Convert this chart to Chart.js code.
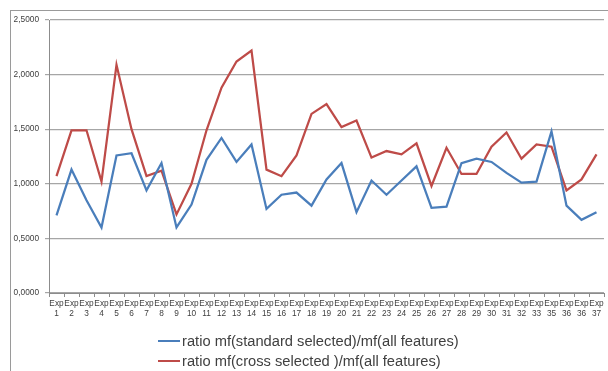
<!DOCTYPE html>
<html>
<head>
<meta charset="utf-8">
<script src="https://cdn.jsdelivr.net/npm/chart.js@4"></script>
<style>
  html, body { margin: 0; padding: 0; background: #fff; }
  #wrap { position: relative; width: 608px; height: 371px; overflow: hidden; }
  #frame { position: absolute; left: 10px; top: 10px; width: 610px; height: 380px;
           border-top: 1px solid #9a9a9a; border-left: 1px solid #9a9a9a; pointer-events: none; }
  #legend { position: absolute; left: 158px; top: 331px; font-family: "Liberation Sans", Arial, sans-serif;
            font-size: 14.7px; color: #404040; }
  .item { display: flex; align-items: center; height: 20px; white-space: nowrap; }
  .swatch { width: 22px; height: 2px; margin-right: 2px; }
</style>
</head>
<body>
<div id="wrap">
  <canvas id="c" width="608" height="371"></canvas>
  <div id="frame"></div>
  <div id="legend"></div>
</div>
<script>
const expNumbers = ['1','2','3','4','5','6','7','8','9','10','11','12','13','14','15','16','17','18','19','20',
  '21','22','23','24','25','26','27','28','29','30','31','32','33','35','36','36','37'];
const seriesNames = ['ratio mf(standard selected)/mf(all features)', 'ratio mf(cross selected )/mf(all features)'];
const standardSelected = [0.71,1.13,0.85,0.60,1.26,1.28,0.94,1.19,0.60,0.81,
  1.22,1.42,1.20,1.36,0.77,0.90,0.92,0.80,1.04,1.19,
  0.74,1.03,0.90,1.03,1.16,0.78,0.79,1.19,1.23,1.20,
  1.10,1.01,1.02,1.48,0.80,0.67,0.74];
const crossSelected = [1.07,1.49,1.49,1.02,2.09,1.50,1.07,1.12,0.72,1.00,
  1.49,1.88,2.12,2.22,1.13,1.07,1.26,1.64,1.73,1.52,
  1.58,1.24,1.30,1.27,1.37,0.98,1.33,1.09,1.09,1.34,
  1.47,1.23,1.36,1.34,0.94,1.04,1.27];
const yTicks = [0, 0.5, 1.0, 1.5, 2.0, 2.5];
const colors = ['#4a7ebb', '#be4b48'];

const labels = expNumbers.map(n => ['Exp', n]);
const font = { family: '"Liberation Sans", Arial, sans-serif', size: 8.3 };

const chart = new Chart(document.getElementById('c'), {
  type: 'line',
  data: {
    labels: labels,
    datasets: [
      { label: seriesNames[0], data: standardSelected, borderColor: colors[0], backgroundColor: colors[0],
        borderWidth: 2.25, pointRadius: 0, tension: 0 },
      { label: seriesNames[1], data: crossSelected, borderColor: colors[1], backgroundColor: colors[1],
        borderWidth: 2.25, pointRadius: 0, tension: 0 }
    ]
  },
  options: {
    responsive: false,
    animation: false,
    layout: { padding: { left: 0, right: 4, top: 20, bottom: 48 } },
    plugins: { legend: { display: false }, tooltip: { enabled: false } },
    scales: {
      x: {
        offset: true,
        grid: { offset: true, drawOnChartArea: false, tickLength: 4, color: '#8c8c8c' },
        border: { color: '#8c8c8c', width: 1 },
        ticks: { autoSkip: false, maxRotation: 0, minRotation: 0, color: '#404040', font: font, padding: 2 },
        afterFit: s => { s.height = 30; }
      },
      y: {
        min: 0, max: 2.5,
        afterBuildTicks: s => { s.ticks = yTicks.map(v => ({ value: v })); },
        grid: { color: '#a6a6a6', lineWidth: 1.2, tickLength: 4 },
        border: { color: '#8c8c8c', width: 1 },
        ticks: { color: '#404040', font: font, padding: 6,
                 callback: v => v.toFixed(4).replace('.', ',') },
        afterFit: s => { s.width = 49; }
      }
    }
  }
});

const leg = document.getElementById('legend');
seriesNames.forEach((name, i) => {
  const row = document.createElement('div');
  row.className = 'item';
  const sw = document.createElement('span');
  sw.className = 'swatch';
  sw.style.background = colors[i];
  const tx = document.createElement('span');
  tx.textContent = name;
  row.appendChild(sw); row.appendChild(tx);
  leg.appendChild(row);
});
</script>
</body>
</html>
